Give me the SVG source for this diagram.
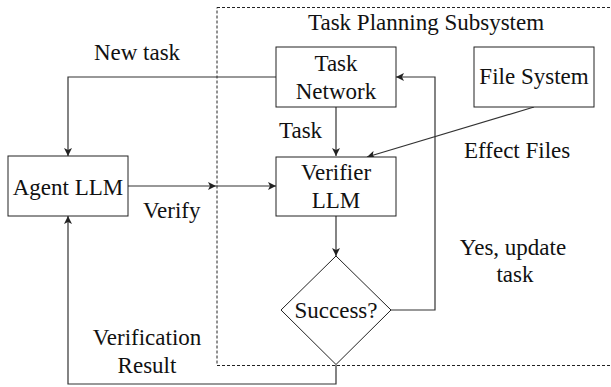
<svg xmlns="http://www.w3.org/2000/svg" width="611" height="387" viewBox="0 0 611 387">
<defs>
<marker id="arr" viewBox="0 0 10 10" refX="10" refY="5" markerWidth="8" markerHeight="8" markerUnits="userSpaceOnUse" orient="auto">
<path d="M0,0 L10,5 L0,10 L2.5,5 Z" fill="#222"/>
</marker>
</defs>
<style>
text{font-family:'Liberation Serif','DejaVu Serif',serif;font-size:23px;fill:#111}
.box{fill:#fff;stroke:#222;stroke-width:1}
.c{fill:none;stroke:#333;stroke-width:1.2}
.m{text-anchor:middle}
</style>
<rect width="611" height="387" fill="#fff"/>
<g id="subsystem">
<rect x="217" y="7.5" width="420" height="358" fill="none" stroke="#222" stroke-width="1" stroke-dasharray="3,2"/>
<text x="308" y="30" font-family="Liberation Serif">Task Planning Subsystem</text>
</g>
<g id="connectors">
<path class="c" d="M336,107 V156" marker-end="url(#arr)"/>
<path class="c" d="M276,77 H68 V156" marker-end="url(#arr)"/>
<path class="c" d="M128,186 H216" marker-end="url(#arr)"/>
<path class="c" d="M216,186 H276" marker-end="url(#arr)"/>
<path class="c" d="M391,310 H435 V77 H396" marker-end="url(#arr)"/>
<path class="c" d="M534,107 L367,157" marker-end="url(#arr)"/>
<path class="c" d="M336,216 V256" marker-end="url(#arr)"/>
<path class="c" d="M336,365 V384 H68 V216" marker-end="url(#arr)"/>
<text class="m" x="137" y="60">New task</text>
<text x="279" y="138">Task</text>
<text x="143" y="218">Verify</text>
<text x="464" y="158">Effect Files</text>
<text class="m" x="513" y="255">Yes, update</text>
<text class="m" x="515" y="282">task</text>
<text class="m" x="147" y="345">Verification</text>
<text class="m" x="147" y="373">Result</text>
</g>
<g id="task-network">
<rect class="box" x="276" y="47" width="120" height="60"/>
<text class="m" x="336" y="71">Task</text>
<text class="m" x="336" y="99">Network</text>
</g>
<g id="file-system">
<rect class="box" x="474" y="47" width="120" height="60"/>
<text class="m" x="534" y="84">File System</text>
</g>
<g id="verifier-llm">
<rect class="box" x="276" y="157" width="120" height="59"/>
<text class="m" x="336" y="180">Verifier</text>
<text class="m" x="336" y="208">LLM</text>
</g>
<g id="agent-llm">
<rect class="box" x="8" y="156" width="120" height="60"/>
<text class="m" x="68" y="195">Agent LLM</text>
</g>
<g id="success">
<polygon class="box" points="336,256 391,310 336,364.5 281,310"/>
<text class="m" x="336" y="318">Success?</text>
</g>
</svg>
